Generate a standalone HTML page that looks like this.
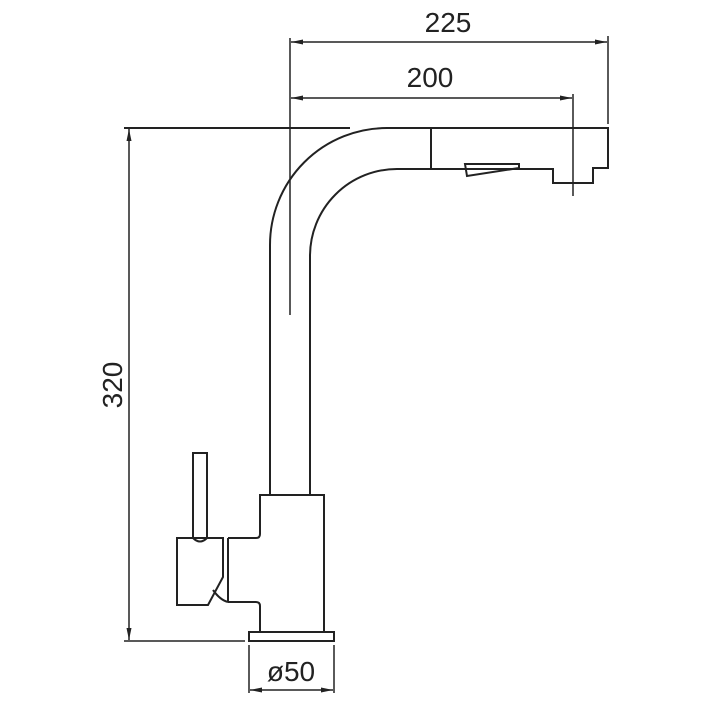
<!DOCTYPE html>
<html><head><style>body{margin:0;background:#fff}svg{display:block}</style></head><body>
<svg width="702" height="702" viewBox="0 0 702 702" xmlns="http://www.w3.org/2000/svg">
<defs>
<marker id="a" viewBox="0 0 12 6" refX="12" refY="3" markerWidth="12" markerHeight="6" orient="auto-start-reverse" markerUnits="userSpaceOnUse"><path d="M0,0.5 L12,3 L0,5.5 Z" fill="#222"/></marker>
</defs>
<g fill="none" stroke="#222" stroke-width="2">
<line x1="290" y1="38" x2="290" y2="315" stroke-width="1.5"/>
<line x1="608" y1="36" x2="608" y2="124" stroke-width="1.5"/>
<line x1="573" y1="94" x2="573" y2="196" stroke-width="1.5"/>
<line x1="291" y1="42" x2="607" y2="42" stroke-width="1.5" marker-start="url(#a)" marker-end="url(#a)"/>
<line x1="291" y1="98" x2="572" y2="98" stroke-width="1.5" marker-start="url(#a)" marker-end="url(#a)"/>
<line x1="124" y1="128" x2="350" y2="128"/>
<line x1="124" y1="641" x2="245" y2="641" stroke-width="1.5"/>
<line x1="129" y1="129" x2="129" y2="640" stroke-width="1.5" marker-start="url(#a)" marker-end="url(#a)"/>
<line x1="249" y1="645" x2="249" y2="693" stroke-width="1.5"/>
<line x1="334" y1="645" x2="334" y2="693" stroke-width="1.5"/>
<line x1="250" y1="690" x2="333" y2="690" stroke-width="1.5" marker-start="url(#a)" marker-end="url(#a)"/>
<path d="M270,495 L270,245 A117,117 0 0 1 387,128 L608,128 L608,168 L593,168 L593,183 L553,183 L553,169 L397,169 A87,87 0 0 0 310,256 L310,495"/>
<line x1="431" y1="128" x2="431" y2="169"/>
<path d="M465,164 L519,164 L519,168 L467,176 Z"/>
<path d="M228,538 L256,538 Q260,538 260,534 L260,495 L324,495 L324,632"/>
<path d="M260,632 L260,606 Q260,602 256,602 L228,602"/>
<line x1="228" y1="538" x2="228" y2="602"/>
<rect x="249" y="632" width="85" height="9"/>
<path d="M193,538 L193,453 L207,453 L207,538"/>
<path d="M193,538 Q200,545 207,538"/>
<path d="M177,538 L223,538 L223,577 L208,605 L177,605 Z"/>
<path d="M213,590 Q220,600 228,602"/>
</g>
<g font-family="Liberation Sans, sans-serif" font-size="28" fill="#222" text-anchor="middle">
<text x="448" y="32">225</text>
<text x="430" y="87">200</text>
<text x="291" y="681">ø50</text>
<text transform="translate(122,385) rotate(-90)">320</text>
</g>
</svg>
</body></html>
